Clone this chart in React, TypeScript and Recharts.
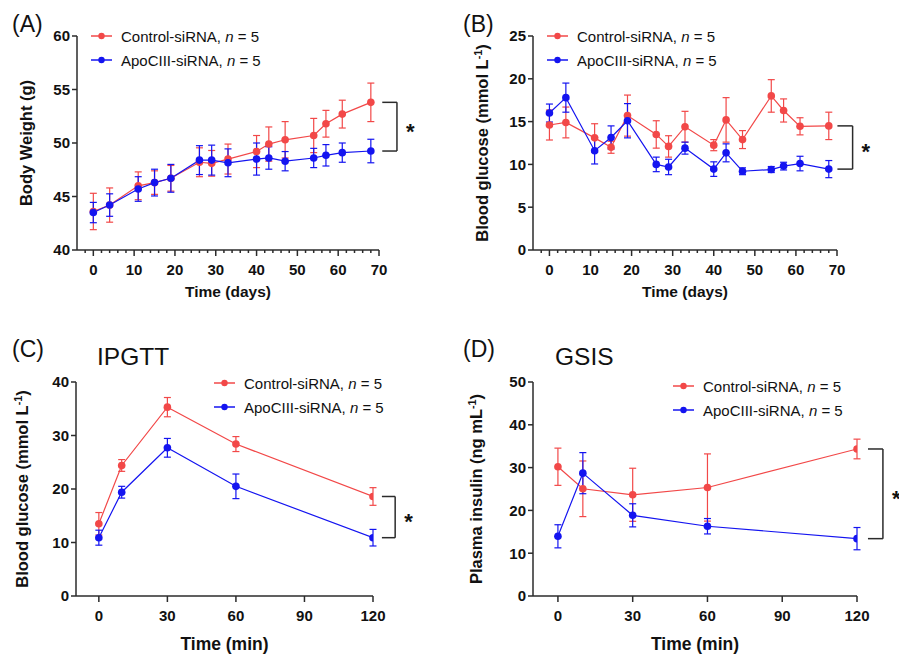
import React from "react"
import {
  LineChart,
  Line,
  XAxis,
  YAxis,
  ErrorBar,
  Legend,
  ReferenceLine,
} from "recharts"

const FONT = "'Liberation Sans', Arial, Helvetica, sans-serif"
const RED = "#f24848"
const BLUE = "#1414f0"
const AXIS = "#2b2b2b"

// (A) body weight, days
const weightDays = [0, 4, 11, 15, 19, 26, 29, 33, 40, 43, 47, 54, 57, 61, 68]
const weightCtrl = [43.6, 44.2, 46.0, 46.3, 46.7, 48.2, 48.1, 48.5, 49.2, 49.9, 50.3, 50.7, 51.8, 52.7, 53.8]
const weightCtrlErr = [1.7, 1.6, 1.3, 1.1, 1.2, 1.35, 1.2, 1.4, 1.5, 1.6, 1.7, 1.6, 1.25, 1.3, 1.8]
const weightApo = [43.5, 44.2, 45.7, 46.3, 46.7, 48.4, 48.4, 48.15, 48.5, 48.6, 48.3, 48.6, 48.85, 49.1, 49.25]
const weightApoErr = [0.95, 1.05, 1.15, 1.25, 1.3, 1.35, 1.4, 1.3, 1.5, 1.05, 0.9, 0.9, 1.0, 0.9, 1.1]

// (B) blood glucose, days
const glucoseDays = [0, 4, 11, 15, 19, 26, 29, 33, 40, 43, 47, 54, 57, 61, 68]
const glucoseCtrl = [14.6, 14.9, 13.1, 12.0, 15.7, 13.5, 12.1, 14.4, 12.25, 15.2, 12.9, 18.0, 16.3, 14.45, 14.5]
const glucoseCtrlErr = [1.75, 1.8, 1.65, 0.7, 2.4, 1.6, 1.25, 1.8, 0.65, 2.6, 1.05, 1.9, 1.35, 1.0, 1.6]
const glucoseApo = [16.0, 17.8, 11.6, 13.15, 15.1, 10.0, 9.7, 11.9, 9.45, 11.35, 9.2, 9.4, 9.8, 10.1, 9.45]
const glucoseApoErr = [1.05, 1.7, 1.55, 1.35, 2.0, 0.85, 0.9, 0.7, 0.85, 1.05, 0.4, 0.35, 0.45, 0.85, 1.0]

// (C) IPGTT, minutes
const ipgttMin = [0, 10, 30, 60, 120]
const ipgttCtrl = [13.5, 24.4, 35.3, 28.4, 18.6]
const ipgttCtrlErr = [2.1, 1.1, 1.8, 1.4, 1.65]
const ipgttApo = [10.9, 19.4, 27.7, 20.5, 10.9]
const ipgttApoErr = [1.4, 1.1, 1.75, 2.3, 1.55]

// (D) GSIS, minutes
const gsisMin = [0, 10, 30, 60, 120]
const gsisCtrl = [30.2, 25.05, 23.65, 25.35, 34.35]
const gsisCtrlErr = [4.35, 6.5, 6.2, 7.85, 2.3]
const gsisApo = [13.95, 28.7, 18.85, 16.3, 13.4]
const gsisApoErr = [2.7, 4.8, 2.7, 1.8, 2.6]

const dayTicks = [-2, 0, 2, 4, 6, 8, 10, 12, 14, 16, 18, 20, 22, 24, 26, 28, 30, 32, 34, 36, 38, 40, 42, 44, 46, 48, 50, 52, 54, 56, 58, 60, 62, 64, 66, 68, 70]
const dayLabels = [0, 10, 20, 30, 40, 50, 60, 70]
const minTicks = [0, 30, 60, 90, 120]

const CTRL = "Control-siRNA"
const APO = "ApoCIII-siRNA"
const legendOrder = [CTRL, APO]

type Row = { x: number; y: number; e: number }
const rows = (xs: number[], ys: number[], es: number[]): Row[] =>
  xs.map((x, i) => ({ x, y: ys[i], e: es[i] }))

const XTick = (props: any) => {
  const { x, y, payload, labels } = props
  const major = labels.includes(payload.value)
  return (
    <g>
      <line x1={x} x2={x} y1={y} y2={y + (major ? 6 : 3)} stroke={AXIS} strokeWidth={1.5} />
      {major && (
        <text x={x} y={y + 25} textAnchor="middle" fontFamily={FONT} fontSize={15} fontWeight="bold" fill="#111">
          {payload.value}
        </text>
      )}
    </g>
  )
}

const XTitle = (props: any) => {
  const { viewBox, text, dy, size } = props
  return (
    <text x={viewBox.x + viewBox.width / 2} y={viewBox.y + dy} textAnchor="middle" fontFamily={FONT} fontSize={size} fontWeight="bold" fill="#111">
      {text}
    </text>
  )
}

const YTitle = (props: any) => {
  const { viewBox, text, sup, bx, size } = props
  const cy = viewBox.y + viewBox.height / 2
  return (
    <text transform={`translate(${bx},${cy}) rotate(-90)`} textAnchor="middle" fontFamily={FONT} fontSize={size} fontWeight="bold" fill="#111">
      {text}
      {sup && (
        <>
          <tspan dy={-6} fontSize={size * 0.65}>{sup}</tspan>
          <tspan dy={6}>)</tspan>
        </>
      )}
    </text>
  )
}

const Star = (props: any) => {
  const { viewBox } = props
  return (
    <text x={viewBox.x + 9} y={viewBox.y + viewBox.height / 2 + 12} fontFamily={FONT} fontSize={22} fontWeight="bold" fill="#111">
      *
    </text>
  )
}

const renderLegend = (props: any) => {
  const items = [...props.payload].sort(
    (a: any, b: any) => legendOrder.indexOf(a.value) - legendOrder.indexOf(b.value)
  )
  return (
    <div style={{ fontFamily: FONT, fontSize: 15, color: "#111", whiteSpace: "nowrap" }}>
      {items.map((entry: any) => (
        <div key={entry.value} style={{ display: "flex", alignItems: "center", height: 24 }}>
          <svg width={22} height={10}>
            <line x1={0} x2={21} y1={5} y2={5} stroke={entry.color} strokeWidth={1.5} />
            <circle cx={10.5} cy={5} r={3.2} fill={entry.color} />
          </svg>
          <span style={{ marginLeft: 8 }}>
            {entry.value}, <i>n</i> = 5
          </span>
        </div>
      ))}
    </div>
  )
}

type PanelProps = {
  left: number
  top: number
  width: number
  height: number
  margin: { top: number; right: number; bottom: number; left: number }
  ctrl: Row[]
  apo: Row[]
  xDomain: [number, number]
  xTicks: number[]
  xLabels: number[]
  yDomain: [number, number]
  yTicks: number[]
  xTitle: string
  xTitleDy: number
  xTitleSize: number
  yTitle: string
  ySup?: string
  yTitleX: number
  legend: { left: number; top: number }
  bracket: [number, number]
}

function Panel(p: PanelProps) {
  const lastC = p.ctrl[p.ctrl.length - 1]
  const lastA = p.apo[p.apo.length - 1]
  const bx0 = lastC.x + p.bracket[0]
  const bx1 = lastC.x + p.bracket[1]
  const line = { stroke: AXIS, strokeWidth: 1.5 }
  return (
    <div style={{ position: "absolute", left: p.left, top: p.top }}>
      <LineChart width={p.width} height={p.height} margin={p.margin}>
        <XAxis
          dataKey="x"
          type="number"
          domain={p.xDomain}
          ticks={p.xTicks}
          interval={0}
          allowDataOverflow
          tickLine={false}
          tickSize={0}
          tickMargin={0}
          axisLine={line}
          height={60}
          tick={(t: any) => <XTick {...t} labels={p.xLabels} />}
          label={<XTitle text={p.xTitle} dy={p.xTitleDy} size={p.xTitleSize} />}
        />
        <YAxis
          type="number"
          domain={p.yDomain}
          ticks={p.yTicks}
          interval={0}
          width={45}
          tickSize={5}
          tickMargin={2}
          axisLine={line}
          tickLine={line}
          tick={{ fontFamily: FONT, fontSize: 15, fontWeight: "bold", fill: "#111" }}
          label={<YTitle text={p.yTitle} sup={p.ySup} bx={p.yTitleX} size={16.5} />}
        />
        <Legend
          layout="vertical"
          align="center"
          verticalAlign="middle"
          wrapperStyle={{ left: p.legend.left, top: p.legend.top, width: "auto" }}
          content={renderLegend}
        />
        <Line
          data={p.ctrl}
          dataKey="y"
          name={CTRL}
          stroke={RED}
          strokeWidth={1.2}
          dot={{ r: 3.8, fill: RED, stroke: RED, strokeWidth: 0 }}
          activeDot={false}
          isAnimationActive={false}
        >
          <ErrorBar dataKey="e" direction="y" width={3.5} stroke={RED} strokeWidth={1.2} isAnimationActive={false} />
        </Line>
        <Line
          data={p.apo}
          dataKey="y"
          name={APO}
          stroke={BLUE}
          strokeWidth={1.2}
          dot={{ r: 3.8, fill: BLUE, stroke: BLUE, strokeWidth: 0 }}
          activeDot={false}
          isAnimationActive={false}
        >
          <ErrorBar dataKey="e" direction="y" width={3.5} stroke={BLUE} strokeWidth={1.2} isAnimationActive={false} />
        </Line>
        <ReferenceLine
          segment={[{ x: bx0, y: lastC.y }, { x: bx1, y: lastC.y }]}
          ifOverflow="visible"
          {...line}
        />
        <ReferenceLine
          segment={[{ x: bx1, y: lastC.y }, { x: bx1, y: lastA.y }]}
          ifOverflow="visible"
          {...line}
          label={<Star />}
        />
        <ReferenceLine
          segment={[{ x: bx0, y: lastA.y }, { x: bx1, y: lastA.y }]}
          ifOverflow="visible"
          {...line}
        />
      </LineChart>
    </div>
  )
}

const T = { fontFamily: FONT, fill: "#111" }

export default function App() {
  return (
    <div style={{ position: "absolute", left: 0, top: 0, width: 899, height: 656, background: "#fff" }}>
      <Panel
        left={0}
        top={0}
        width={450}
        height={320}
        margin={{ top: 36, right: 71, bottom: 10, left: 32 }}
        ctrl={rows(weightDays, weightCtrl, weightCtrlErr)}
        apo={rows(weightDays, weightApo, weightApoErr)}
        xDomain={[-4, 70]}
        xTicks={dayTicks}
        xLabels={dayLabels}
        yDomain={[40, 60]}
        yTicks={[40, 45, 50, 55, 60]}
        xTitle="Time (days)"
        xTitleDy={47}
        xTitleSize={15.5}
        yTitle="Body Weight (g)"
        yTitleX={32}
        legend={{ left: 91, top: 24 }}
        bracket={[2.8, 6.4]}
      />
      <Panel
        left={450}
        top={0}
        width={449}
        height={320}
        margin={{ top: 36, right: 62, bottom: 10, left: 38 }}
        ctrl={rows(glucoseDays, glucoseCtrl, glucoseCtrlErr)}
        apo={rows(glucoseDays, glucoseApo, glucoseApoErr)}
        xDomain={[-4, 70]}
        xTicks={dayTicks}
        xLabels={dayLabels}
        yDomain={[0, 25]}
        yTicks={[0, 5, 10, 15, 20, 25]}
        xTitle="Time (days)"
        xTitleDy={47}
        xTitleSize={15.5}
        yTitle="Blood glucose (mmol L"
        ySup="-1"
        yTitleX={38}
        legend={{ left: 97, top: 24 }}
        bracket={[2.1, 5.8]}
      />
      <Panel
        left={0}
        top={330}
        width={450}
        height={326}
        margin={{ top: 52, right: 77, bottom: 0, left: 31 }}
        ctrl={rows(ipgttMin, ipgttCtrl, ipgttCtrlErr)}
        apo={rows(ipgttMin, ipgttApo, ipgttApoErr)}
        xDomain={[-10, 120]}
        xTicks={minTicks}
        xLabels={minTicks}
        yDomain={[0, 40]}
        yTicks={[0, 10, 20, 30, 40]}
        xTitle="Time (min)"
        xTitleDy={54}
        xTitleSize={17.5}
        yTitle="Blood glucose (mmol L"
        ySup="-1"
        yTitleX={28}
        legend={{ left: 214, top: 41 }}
        bracket={[3.9, 9.7]}
      />
      <Panel
        left={450}
        top={330}
        width={449}
        height={326}
        margin={{ top: 52, right: 42, bottom: 0, left: 38 }}
        ctrl={rows(gsisMin, gsisCtrl, gsisCtrlErr)}
        apo={rows(gsisMin, gsisApo, gsisApoErr)}
        xDomain={[-10, 120]}
        xTicks={minTicks}
        xLabels={minTicks}
        yDomain={[0, 50]}
        yTicks={[0, 10, 20, 30, 40, 50]}
        xTitle="Time (min)"
        xTitleDy={54}
        xTitleSize={17.5}
        yTitle="Plasma insulin (ng mL"
        ySup="-1"
        yTitleX={32}
        legend={{ left: 223, top: 44 }}
        bracket={[4.4, 10.4]}
      />
      <svg width={899} height={656} style={{ position: "absolute", left: 0, top: 0, pointerEvents: "none" }}>
        <text x={12} y={32} fontSize={23} {...T}>(A)</text>
        <text x={463} y={32} fontSize={23} {...T}>(B)</text>
        <text x={12} y={357} fontSize={23} {...T}>(C)</text>
        <text x={463} y={357} fontSize={23} {...T}>(D)</text>
        <text x={97} y={365} fontSize={24.5} {...T}>IPGTT</text>
        <text x={555} y={365} fontSize={24.5} {...T}>GSIS</text>
      </svg>
    </div>
  )
}
